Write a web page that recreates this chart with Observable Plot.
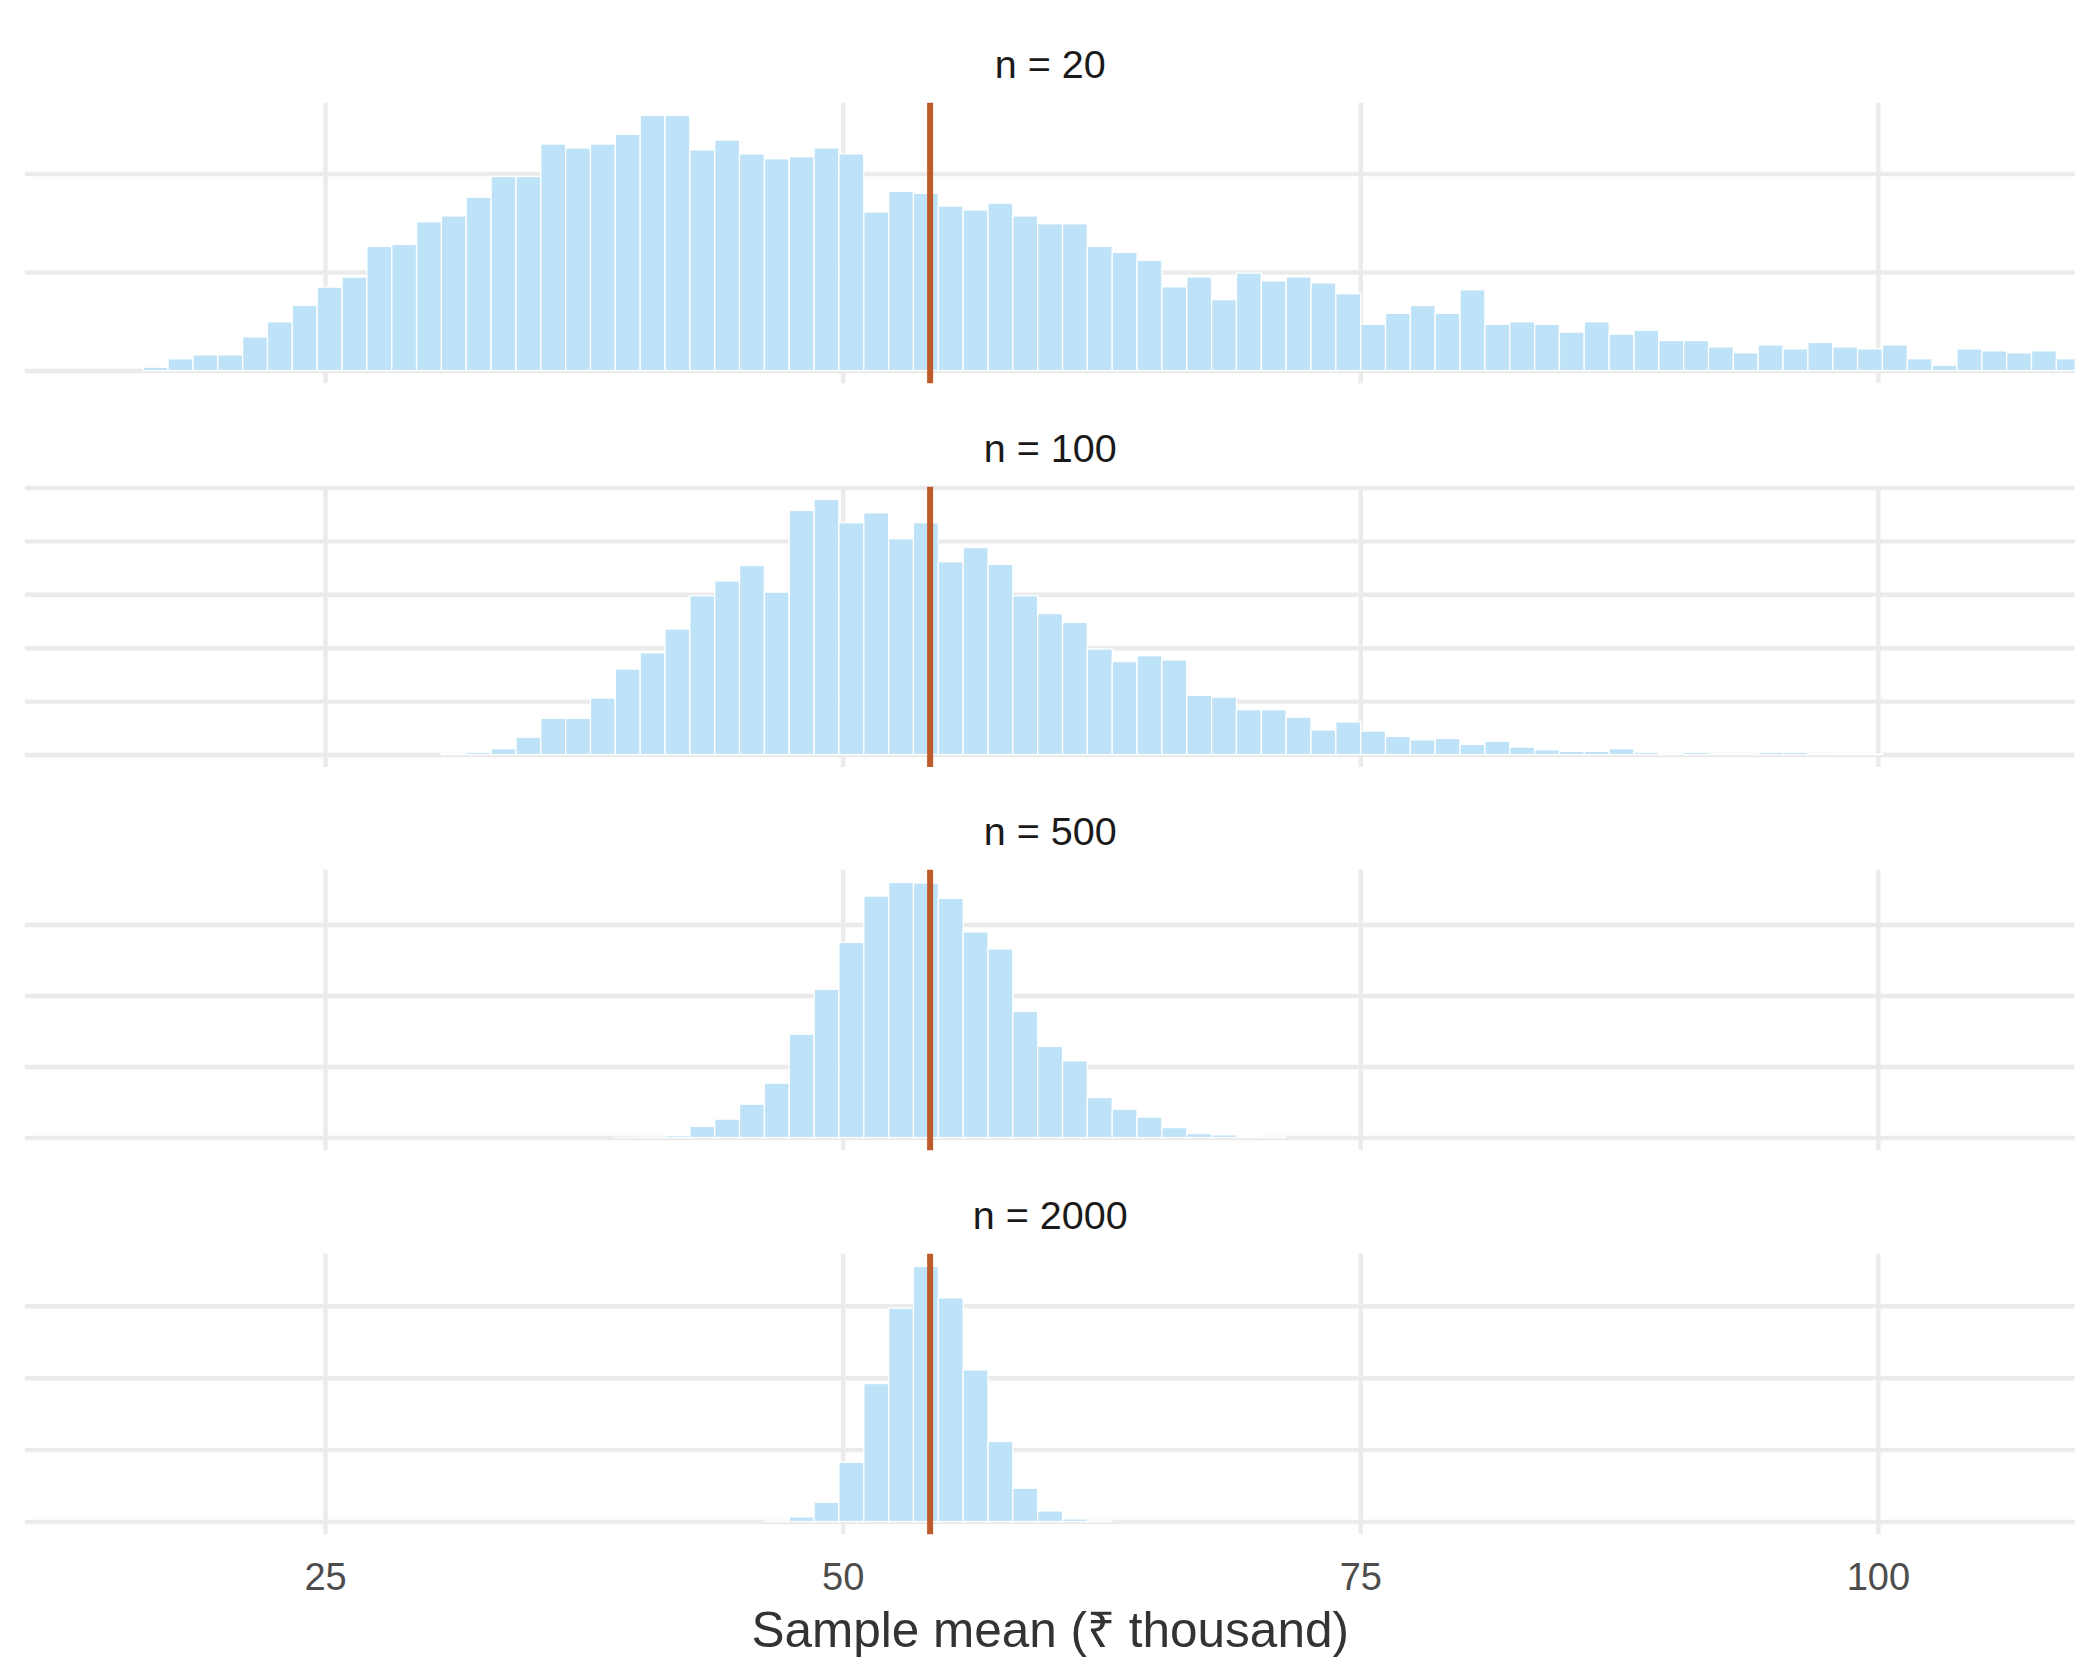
<!DOCTYPE html>
<html>
<head>
<meta charset="utf-8">
<script src="https://cdn.jsdelivr.net/npm/d3@7"></script>
<script src="https://cdn.jsdelivr.net/npm/@observablehq/plot@0.6"></script>
<style>
  html, body { margin: 0; padding: 0; background: #ffffff; }
  #chart { position: relative; width: 2100px; height: 1680px; background: #ffffff; }
  #chart svg { position: absolute; left: 0; display: block; }
</style>
</head>
<body>
<div id="chart"></div>
<script>
// ---- Data ----
// Histogram bins shared by all panels
const binStart = 16.22;      // left edge of first bin (₹ thousand)
const binWidth = 1.2;        // bin width (₹ thousand)
const populationMean = 54.2; // vertical reference line
const xBreaks = [25, 50, 75, 100];
const xTitle = "Sample mean (₹ thousand)";
const panelLabels = ["n = 20", "n = 100", "n = 500", "n = 2000"];

// Densities per bin (78 bins each)
const density_n20 = [
  0.00034, 0.00119, 0.00159, 0.00159, 0.00342, 0.00495, 0.00661, 0.00847, 0.00949, 0.0126,
  0.0128, 0.0151, 0.0157, 0.0176, 0.0197, 0.0197, 0.0230, 0.0226, 0.0230, 0.0240,
  0.0259, 0.0259, 0.0224, 0.0234, 0.0220, 0.0215, 0.0217, 0.0226, 0.0220, 0.0161,
  0.0182, 0.0180, 0.0167, 0.0163, 0.0170, 0.0157, 0.0149, 0.0149, 0.0126, 0.0120,
  0.0112, 0.0085, 0.0095, 0.0072, 0.0099, 0.0091, 0.0095, 0.0089, 0.0078, 0.0047,
  0.0058, 0.0066, 0.0058, 0.0082, 0.0047, 0.00495, 0.0047, 0.0039, 0.00495, 0.0037,
  0.0041, 0.00305, 0.00305, 0.0024, 0.0018, 0.0026, 0.0022, 0.00285, 0.0024, 0.0022,
  0.0026, 0.0012, 0.00054, 0.0022, 0.0020, 0.0018, 0.0020, 0.0012
];
const density_n100 = [
  0, 0, 0, 0, 0, 0, 0, 0, 0, 0,
  0, 0, 0.0002, 0.00044, 0.0011, 0.00325, 0.0068, 0.0068, 0.01056, 0.016,
  0.01906, 0.0235, 0.02975, 0.0325, 0.0354, 0.0304, 0.0457, 0.04775, 0.0434, 0.04525,
  0.0404, 0.0434, 0.0361, 0.03875, 0.0356, 0.02975, 0.0264, 0.02475, 0.01975, 0.0174,
  0.0185, 0.0177, 0.0111, 0.01075, 0.0084, 0.0084, 0.0070, 0.0046, 0.0061, 0.0044,
  0.0034, 0.00275, 0.0030, 0.0019, 0.0025, 0.0014, 0.0009, 0.0006, 0.0006, 0.0011,
  0.00044, 0.00025, 0.00044, 0.0001, 0.0001, 0.00044, 0.00044, 0.0001, 0.00025, 0.00015,
  0, 0, 0, 0, 0, 0, 0, 0
];
const density_n500 = [
  0, 0, 0, 0, 0, 0, 0, 0, 0, 0,
  0, 0, 0, 0, 0, 0, 0, 0, 0, 0.00005,
  0.00008, 0.0007, 0.0039, 0.0065, 0.01175, 0.01915, 0.0364, 0.0522, 0.0687, 0.085,
  0.0898, 0.0896, 0.0842, 0.0724, 0.0664, 0.0444, 0.0321, 0.0270, 0.0141, 0.0100,
  0.0072, 0.0035, 0.0014, 0.00095, 0.00048, 0.0002, 0, 0, 0, 0,
  0, 0, 0, 0, 0, 0, 0, 0, 0, 0,
  0, 0, 0, 0, 0, 0, 0, 0, 0, 0,
  0, 0, 0, 0, 0, 0, 0, 0
];
const density_n2000 = [
  0, 0, 0, 0, 0, 0, 0, 0, 0, 0,
  0, 0, 0, 0, 0, 0, 0, 0, 0, 0,
  0, 0, 0, 0, 0, 0.00025, 0.00325, 0.01345, 0.04125, 0.09595,
  0.14835, 0.17735, 0.15555, 0.10545, 0.05565, 0.0232, 0.0074, 0.00185, 0.00025, 0,
  0, 0, 0, 0, 0, 0, 0, 0, 0, 0,
  0, 0, 0, 0, 0, 0, 0, 0, 0, 0,
  0, 0, 0, 0, 0, 0, 0, 0, 0, 0,
  0, 0, 0, 0, 0, 0, 0, 0
];

// y gridline breaks per panel (density)
const yBreaks_n20 = [0, 0.01, 0.02];
const yBreaks_n100 = [0, 0.01, 0.02, 0.03, 0.04, 0.05];
const yBreaks_n500 = [0, 0.025, 0.05, 0.075];
const yBreaks_n2000 = [0, 0.05, 0.10, 0.15];

// ---- Layout / style ----
const W = 2100;
const panelPeriod = 383.6;
const panelTopMargin = 102.7;
const panelHeight = 280.6;
const marginLeft = 24.8;
const marginRight = 25.4;
const xDomain = [10.5, 109.5];
const fontFamily = "'Liberation Sans', Arial, Helvetica, sans-serif";
const gridColor = "#EBEBEB";
const gridWidth = 4.4;
const barFill = "#BEE2F7";
const lineColor = "#BF5A2A";

const panels = [
  {label: panelLabels[0], dens: density_n20, breaks: yBreaks_n20},
  {label: panelLabels[1], dens: density_n100, breaks: yBreaks_n100},
  {label: panelLabels[2], dens: density_n500, breaks: yBreaks_n500},
  {label: panelLabels[3], dens: density_n2000, breaks: yBreaks_n2000}
];

const chart = document.getElementById("chart");

panels.forEach((p, i) => {
  const isLast = i === panels.length - 1;
  const top = i * panelPeriod;
  const H = isLast ? 1680 - top : panelPeriod;
  const marginBottom = H - panelTopMargin - panelHeight;
  const bins = p.dens.map((d, k) => ({
    x1: binStart + k * binWidth,
    x2: binStart + (k + 1) * binWidth,
    y1: 0,
    y2: d
  }));
  const ymax = d3.max(p.dens);
  const marks = [
    Plot.gridX(xBreaks, {stroke: gridColor, strokeOpacity: 1, strokeWidth: gridWidth}),
    Plot.gridY(p.breaks, {stroke: gridColor, strokeOpacity: 1, strokeWidth: gridWidth}),
    Plot.rect(bins.filter(b => b.y2 > 0), {
      x1: "x1", x2: "x2", y1: "y1", y2: "y2",
      fill: barFill, stroke: "white", strokeWidth: 1.3, clip: true
    }),
    Plot.ruleX([populationMean], {stroke: lineColor, strokeWidth: 6}),
    Plot.text([p.label], {
      text: d => d, frameAnchor: "top", lineAnchor: "middle", dy: -38,
      fontSize: 39.5, fill: "#1A1A1A", fontFamily
    })
  ];
  if (isLast) {
    marks.push(
      Plot.axisX(xBreaks, {
        tickSize: 0, tickPadding: 28, fontSize: 38,
        fill: "#4D4D4D", label: null, fontFamily
      }),
      Plot.text([xTitle], {
        text: d => d, frameAnchor: "bottom", lineAnchor: "middle", dy: 96,
        fontSize: 49.5, fill: "#333333", fontFamily
      })
    );
  }
  const svg = Plot.plot({
    width: W,
    height: H,
    marginLeft, marginRight,
    marginTop: panelTopMargin,
    marginBottom,
    style: {background: "white", fontFamily, fontSize: "38px", overflow: "visible"},
    x: {domain: xDomain, axis: isLast ? undefined : null},
    y: {domain: [-0.05 * ymax, 1.05 * ymax], axis: null},
    marks
  });
  svg.style.top = top + "px";
  chart.appendChild(svg);
});
</script>
</body>
</html>
